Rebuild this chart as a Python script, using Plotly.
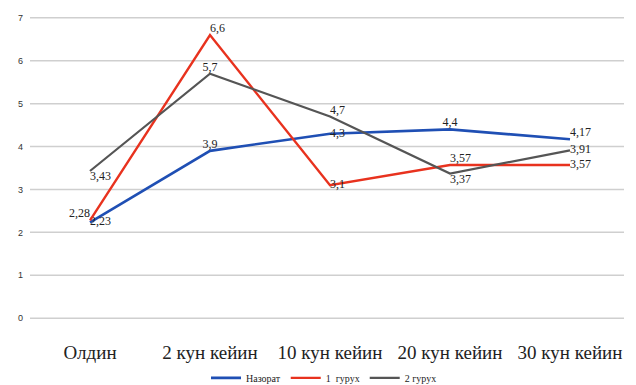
import plotly.graph_objects as go

categories = ["Олдин", "2 кун кейин", "10 кун кейин", "20 кун кейин", "30 кун кейин"]
series_names = ["Назорат", "1  гурух", "2 гурух"]
nazorat = [2.23, 3.9, 4.3, 4.4, 4.17]
group1 = [2.28, 6.6, 3.1, 3.57, 3.57]
group2 = [3.43, 5.7, 4.7, 3.37, 3.91]
y_ticks = [0, 1, 2, 3, 4, 5, 6, 7]

SERIF = "Liberation Serif"
GRID = "#cfcfcf"
colors = ["#1f4fb4", "#e8321e", "#555555"]
positions = [
    ["middle right", "top center", "middle right", "top center", "top right"],
    ["top left", "top right", "middle right", "top right", "middle right"],
    ["bottom right", "top center", "top right", "bottom right", "middle right"],
]

def fmt(v):
    return str(v).replace(".", ",")

fig = go.Figure()
for name, vals, col, pos, w in zip(series_names, [nazorat, group1, group2], colors, positions, [2.6, 2.4, 2.2]):
    fig.add_trace(go.Scatter(
        x=categories, y=vals, name=name, mode="lines+text",
        line=dict(color=col, width=w),
        text=[fmt(v) for v in vals], textposition=pos,
        textfont=dict(family=SERIF, size=12, color="#222"),
    ))

# horizontal grid lines at each y tick, placed through the y scale
for t in y_ticks:
    fig.add_shape(type="line", xref="paper", x0=0, x1=0.99, yref="y", y0=t, y1=t,
                  line=dict(color=GRID, width=1.5), layer="below")

fig.update_layout(
    width=636, height=385,
    margin=dict(l=30, r=6, t=17, b=66, autoexpand=False),
    paper_bgcolor="white", plot_bgcolor="white",
    showlegend=True,
    legend=dict(orientation="h", x=0.49, xanchor="center", y=-0.195, yanchor="middle",
                font=dict(family=SERIF, size=10, color="#222"),
                itemwidth=30, tracegroupgap=0),
)
fig.update_xaxes(type="category", range=[-0.5, 4.5], showgrid=False, showline=False,
                 ticks="", tickfont=dict(family=SERIF, size=19, color="#222"),
                 ticklabelstandoff=20, automargin=False)
fig.update_yaxes(range=[-0.02, 7.02], tickvals=y_ticks, showgrid=False,
                 zeroline=False, showline=False, automargin=False,
                 tickfont=dict(family="Liberation Sans", size=9, color="#333"),
                 ticklabelstandoff=6)

fig.write_html("out.html")
